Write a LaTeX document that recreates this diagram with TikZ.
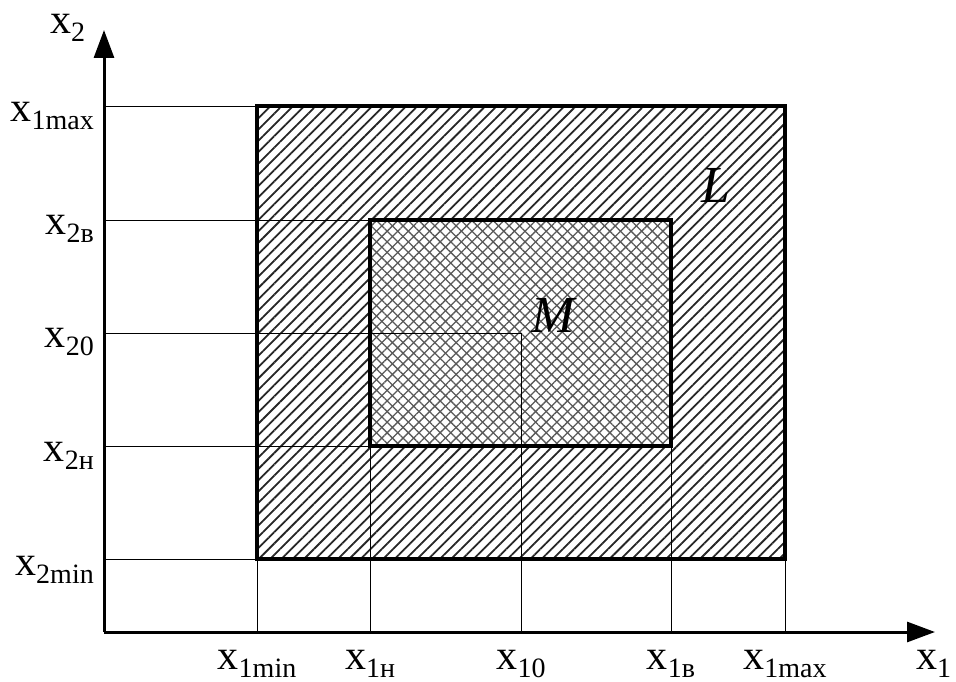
\documentclass[tikz,border=0pt]{standalone}
\usepackage{fontspec}
\setmainfont{Liberation Serif}
\usetikzlibrary{patterns.meta,arrows.meta}
\newcommand{\xsub}[1]{x\raisebox{-8pt}{\fontsize{28}{30}\selectfont #1}}
\begin{document}
\begin{tikzpicture}[x=1pt,y=-1pt,
  lab/.style={font=\fontsize{42}{44}\selectfont, inner sep=0pt},
  big/.style={font=\fontsize{52}{54}\selectfont\itshape, inner sep=0pt},
  guide/.style={line width=0.8pt},
  region/.style={line width=3.2pt},
  axis/.style={line width=3pt,-{Triangle[length=28pt,width=20pt]}},
  single hatch/.style={pattern={Lines[angle=45,distance=8pt,line width=1.8pt]}, pattern color=black!85},
  cross a/.style={pattern={Lines[angle=45,distance=7.5pt,line width=1.3pt]}, pattern color=black!65},
  cross b/.style={pattern={Lines[angle=-45,distance=7.5pt,line width=1.3pt]}, pattern color=black!65}]
\useasboundingbox (0,0) rectangle (956,682);
% key coordinates
\coordinate (O) at (104,632);
\coordinate (ytip) at (104,30);
\coordinate (xtip) at (935,632);
\coordinate (Lsw) at (257,559);
\coordinate (Lne) at (785,106);
\coordinate (Msw) at (370,446);
\coordinate (Mne) at (671,220);
\coordinate (C) at (521,333);
% regions
\path[single hatch] (Lsw) rectangle (Lne);
\fill[white] (Msw) rectangle (Mne);
\path[cross a] (Msw) rectangle (Mne);
\path[cross b] (Msw) rectangle (Mne);
% guide lines
\draw[guide] (O |- Lne) -- (Lsw |- Lne);
\draw[guide] (O |- Mne) -- (Msw |- Mne);
\draw[guide] (O |- C) -- (C) -- (C |- O);
\draw[guide] (O |- Msw) -- (Msw);
\draw[guide] (O |- Lsw) -- (Lsw);
\draw[guide] (Lsw) -- (Lsw |- O);
\draw[guide] (Msw) -- (Msw |- O);
\draw[guide] (Mne |- Msw) -- (Mne |- O);
\draw[guide] (Lne |- Lsw) -- (Lne |- O);
% region borders
\draw[region] (Lsw) rectangle (Lne);
\draw[region] (Msw) rectangle (Mne);
% axes
\draw[axis] (O) -- (ytip);
\draw[axis] (O) -- (xtip);
% axis labels
\node[lab, anchor=base west] (lx2) at (50,34) {\xsub{2}};
\node[lab, anchor=base west] (lx1) at (916,669) {\xsub{1}};
% left labels
\node[lab, anchor=base east] (l1) at (94,122) {\xsub{1max}};
\node[lab, anchor=base east] (l2) at (94,234) {\xsub{2в}};
\node[lab, anchor=base east] (l3) at (94,347) {\xsub{20}};
\node[lab, anchor=base east] (l4) at (94,461) {\xsub{2н}};
\node[lab, anchor=base east] (l5) at (94,575) {\xsub{2min}};
% bottom labels
\node[lab, anchor=base] (b1) at (257,669) {\xsub{1min}};
\node[lab, anchor=base] (b2) at (370,669) {\xsub{1н}};
\node[lab, anchor=base] (b3) at (521,669) {\xsub{10}};
\node[lab, anchor=base] (b4) at (671,669) {\xsub{1в}};
\node[lab, anchor=base] (b5) at (785,669) {\xsub{1max}};
% region labels
\node[big] (Mlab) at (553,315) {M};
\node[big] (Llab) at (716,185) {L};
\end{tikzpicture}
\end{document}
